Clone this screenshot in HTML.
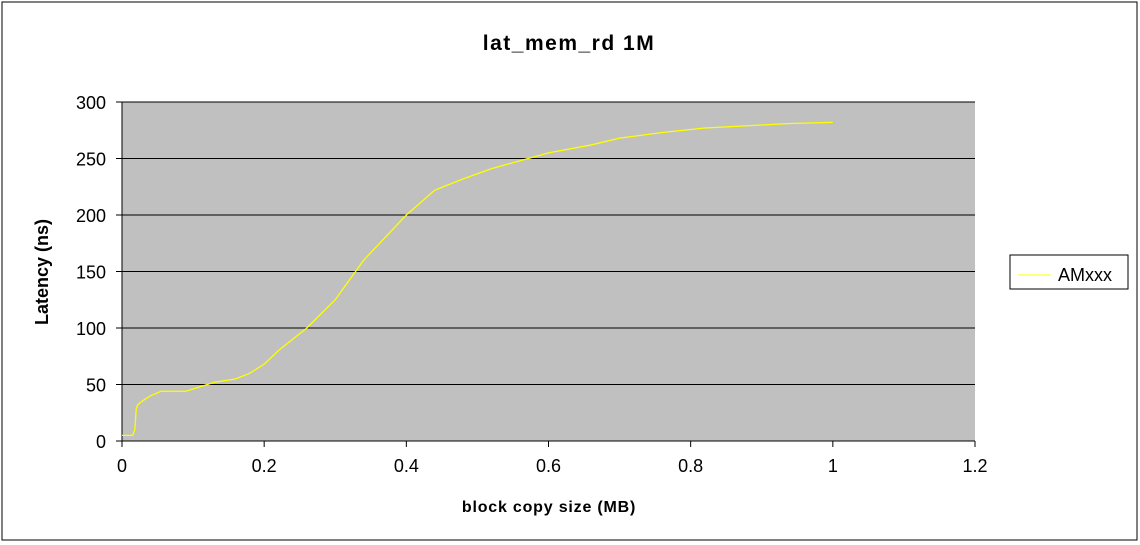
<!DOCTYPE html>
<html><head><meta charset="utf-8"><style>
body{margin:0;background:#fff;}
svg{display:block;font-family:"Liberation Sans",Arial,sans-serif;}
</style></head><body>
<svg width="1140" height="545">
<rect x="2" y="2" width="1135" height="538" fill="#fff" stroke="#000"/>
<text x="569" y="50" text-anchor="middle" font-size="21" font-weight="bold" letter-spacing="1.5">lat_mem_rd 1M</text>
<rect x="122" y="102" width="853" height="339" fill="#c0c0c0"/>
<g id="grid"></g>
<g id="axes"></g>
<polyline id="line" fill="none" stroke="#ffff00" stroke-width="1.3"/>
<text transform="translate(48,272) rotate(-90)" text-anchor="middle" font-size="18" font-weight="bold">Latency (ns)</text>
<text x="549" y="512" text-anchor="middle" font-size="16" font-weight="bold" letter-spacing="0.8">block copy size (MB)</text>
<g>
<rect x="1010" y="255" width="118" height="34" fill="#fff" stroke="#000"/>
<line x1="1018" y1="275" x2="1051" y2="275" stroke="#ffff00"/>
<text x="1058" y="281" font-size="18">AMxxx</text>
</g>
</svg>
<script>
const xTicks=[0,0.2,0.4,0.6,0.8,1,1.2];
const yTicks=[0,50,100,150,200,250,300];
const xs=[0,0.015,0.018,0.02,0.022,0.03,0.04,0.055,0.09,0.11,0.13,0.16,0.18,0.2,0.22,0.26,0.3,0.34,0.4,0.44,0.48,0.52,0.56,0.6,0.66,0.7,0.76,0.82,0.88,0.94,1.0];
const ys=[5,5,10,28,32,36,40,44,44,48,52,55,60,68,80,100,125,160,200,222,232,241,248,255,262,268,273,277,279,281,282];
const X=v=>122+v/1.2*853, Y=v=>441-v/300*339;
const ns="http://www.w3.org/2000/svg";
const grid=document.getElementById('grid'), axes=document.getElementById('axes');
function mk(t,a,p){const e=document.createElementNS(ns,t);for(const k in a)e.setAttribute(k,a[k]);p.appendChild(e);return e;}
yTicks.forEach(v=>{
 if(v>0){const g=mk('line',{x1:122,x2:975,y1:Y(v),y2:Y(v),stroke:'#000'},grid);
 
 }
 mk('line',{x1:116,x2:122,y1:Y(v),y2:Y(v),stroke:'#000'},axes);
 const t=mk('text',{x:106,y:Y(v)+7,'text-anchor':'end','font-size':18},axes);t.textContent=v;
 
 
});
xTicks.forEach(v=>{
 mk('line',{x1:X(v),x2:X(v),y1:441,y2:447,stroke:'#000'},axes);
 const t=mk('text',{x:X(v),y:472,'text-anchor':'middle','font-size':18},axes);t.textContent=v;
 
 
});
mk('line',{x1:122,x2:122,y1:102,y2:441,stroke:'#000'},axes);
mk('line',{x1:122,x2:975,y1:441,y2:441,stroke:'#000'},axes);
document.getElementById('line').setAttribute('points',xs.map((x,i)=>X(x)+','+Y(ys[i])).join(' '));
</script>
</body></html>
